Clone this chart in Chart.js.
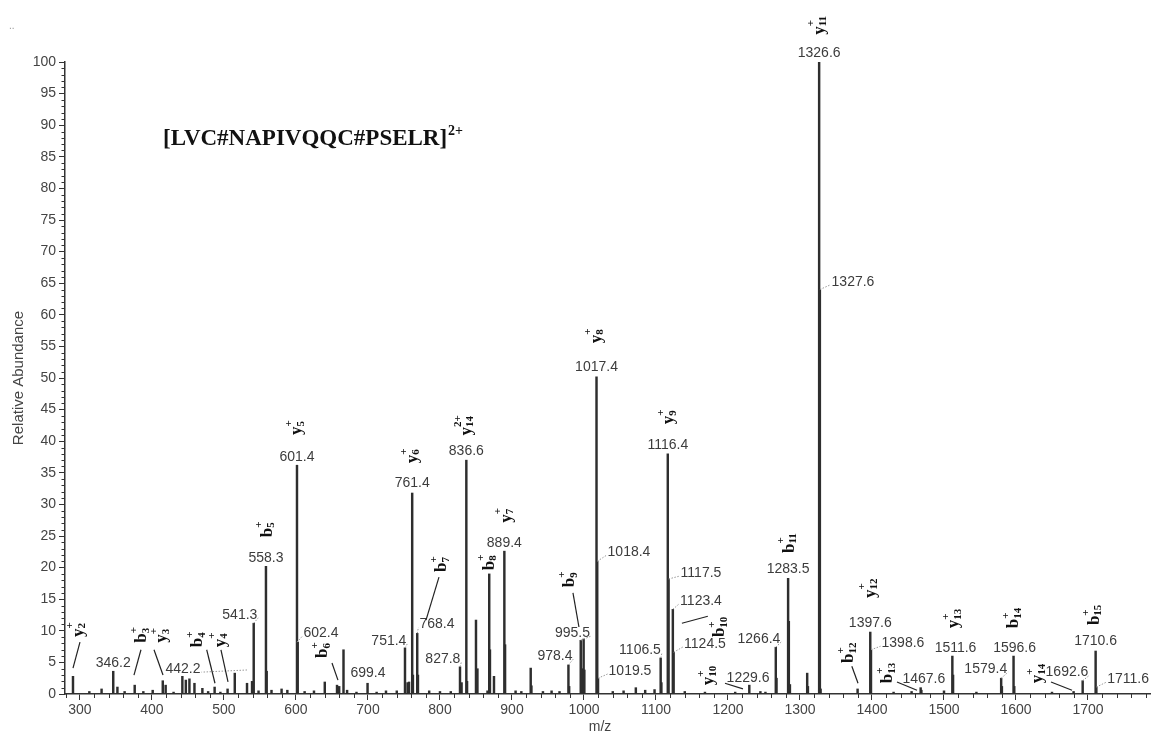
<!DOCTYPE html>
<html>
<head>
<meta charset="utf-8">
<script src="https://cdn.jsdelivr.net/npm/chart.js@4.4.0/dist/chart.umd.min.js"></script>
<style>
  html, body { margin: 0; background: #fff; }
</style>
</head>
<body>
<canvas id="spectrum" width="1151" height="736"></canvas>
<script>
// peak list: m/z and relative abundance (%)
const peakMz = [
  290.3, 313, 330, 346.2, 352, 362, 376, 388, 401, 415, 419, 430, 442.2, 447, 452, 459,
  470, 478, 487, 495, 505, 515, 532, 539, 541.3, 548, 558.3, 559.3, 566, 580, 588,
  601.4, 602.4, 612, 625, 640, 657, 660, 666, 671, 684, 699.4, 712, 725, 740,
  751.4, 755, 757, 761.4, 762.4, 768.4, 769.4, 785, 800, 815, 827.8, 830,
  836.6, 837.6, 850, 852, 866, 868.4, 869.4, 875, 889.4, 890.4, 905, 913, 926, 927,
  943, 955, 966, 978.4, 979.4, 995.5, 997, 999.5, 1000.5, 1017.4, 1018.4, 1019.5,
  1040, 1055, 1072, 1085, 1098, 1106.5, 1107.5, 1116.4, 1117.5, 1123.4, 1124.5,
  1140, 1168, 1210, 1229.6, 1245, 1252, 1266.4, 1267.4, 1283.5, 1284.5, 1286,
  1310, 1311, 1326.6, 1327.6, 1328.6, 1380, 1397.6, 1398.6, 1430, 1455, 1467.6, 1468.6,
  1500, 1511.6, 1512.6, 1545, 1579.4, 1580.4, 1596.6, 1597.6, 1650, 1680, 1692.6,
  1710.6, 1711.6
];
const peakAb = [
  2.8, 0.4, 0.8, 3.6, 1.1, 0.4, 1.4, 0.4, 0.6, 2.1, 1.4, 0.3, 2.8, 2.2, 2.4, 1.7,
  0.9, 0.4, 1.1, 0.3, 0.8, 3.3, 1.7, 2.0, 11.2, 0.5, 20.2, 3.6, 0.6, 0.8, 0.6,
  36.2, 8.2, 0.4, 0.5, 1.9, 1.4, 1.2, 7.0, 0.6, 0.3, 1.7, 0.3, 0.5, 0.5,
  7.3, 1.8, 1.9, 31.8, 3.0, 9.6, 3.0, 0.5, 0.4, 0.4, 4.3, 1.8,
  37.0, 2.0, 11.7, 4.0, 0.5, 19.0, 7.0, 2.8, 22.6, 7.8, 0.5, 0.4, 4.1, 1.3,
  0.4, 0.5, 0.4, 4.6, 1.2, 8.5, 4.0, 8.7, 3.8, 50.2, 21.0, 2.5,
  0.4, 0.5, 1.0, 0.6, 0.7, 5.7, 1.8, 38.0, 18.2, 13.4, 6.6,
  0.4, 0.3, 0.3, 1.4, 0.4, 0.3, 7.4, 2.5, 18.3, 11.5, 1.5,
  3.3, 1.2, 100, 64.0, 0.8, 0.8, 9.8, 7.0, 0.3, 0.4, 1.0, 0.6,
  0.5, 6.0, 3.0, 0.3, 2.5, 1.2, 6.0, 1.2, 0.3, 0.4, 2.1,
  6.8, 1.1
];

const xTickValues = [300, 400, 500, 600, 700, 800, 900, 1000, 1100, 1200, 1300, 1400, 1500, 1600, 1700];

// m/z annotations: text, label centre (m/z, abundance at baseline), optional dotted leader start
const mzLabels = [
  ['346.2', 346.2, 4.3],
  ['442.2', 443, 3.3, 532, 3.8],
  ['541.3', 522, 11.9, 541.3, 11.2],
  ['558.3', 558.3, 20.9],
  ['601.4', 601.4, 36.9],
  ['602.4', 634.7, 9.0, 601.4, 8.2],
  ['699.4', 700, 2.7],
  ['751.4', 729, 7.8, 751.4, 7.3],
  ['761.4', 761.4, 32.8],
  ['768.4', 795.8, 10.4, 768.4, 9.6],
  ['827.8', 804, 4.9, 827.8, 4.3],
  ['836.6', 836.6, 37.8],
  ['889.4', 889.4, 23.3],
  ['978.4', 959.7, 5.4, 978.4, 4.6],
  ['995.5', 984, 9.0, 995.5, 8.5],
  ['1017.4', 1017.4, 51.1],
  ['1018.4', 1062.5, 21.8, 1018.4, 21.0],
  ['1019.5', 1063.9, 3.0, 1019.5, 2.5],
  ['1106.5', 1077.8, 6.3, 1106.5, 5.7],
  ['1116.4', 1116.4, 38.8],
  ['1117.5', 1162.5, 18.5, 1117.5, 18.2],
  ['1123.4', 1162.5, 14.1, 1123.4, 13.4],
  ['1124.5', 1168, 7.3, 1124.5, 6.6],
  ['1229.6', 1227.8, 1.9],
  ['1266.4', 1243, 8.1, 1266.4, 7.4],
  ['1283.5', 1283.5, 19.1],
  ['1326.6', 1326.6, 100.8],
  ['1327.6', 1373.6, 64.6, 1327.6, 64.0],
  ['1397.6', 1397.6, 10.6],
  ['1398.6', 1443, 7.4, 1398.6, 7.0],
  ['1467.6', 1472, 1.7],
  ['1511.6', 1516, 6.6],
  ['1579.4', 1558, 3.3, 1579.4, 2.5],
  ['1596.6', 1598, 6.6],
  ['1692.6', 1670.8, 2.8, 1692.6, 2.1],
  ['1710.6', 1710.6, 7.8],
  ['1711.6', 1755.6, 1.7, 1711.6, 1.1]
];

// fragment ions: letter, subscript, charge, bottom-centre (m/z, abundance), optional solid leader
const ionLabels = [
  ['y', '2', '+', 297.5, 9.0, [300, 8.2, 290.3, 4.1]],
  ['b', '3', '+', 386, 8.1, [384.7, 7.0, 375, 3.0]],
  ['y', '3', '+', 414, 8.1, [402.8, 7.0, 415.3, 3.0]],
  ['b', '4', '+', 464, 7.4, [476, 7.0, 487.5, 1.7]],
  ['y', '4', '+', 495, 7.4, [495.8, 7.0, 505.6, 1.9]],
  ['b', '5', '+', 560, 24.8],
  ['y', '5', '+', 601.4, 41.0],
  ['b', '6', '+', 637.5, 5.7, [650, 4.9, 658.3, 2.2]],
  ['y', '6', '+', 761.4, 36.5],
  ['b', '7', '+', 802.8, 19.3, [798.6, 18.5, 780.6, 11.7]],
  ['y', '14', '2+', 836.6, 40.9],
  ['b', '8', '+', 868.4, 19.6],
  ['y', '7', '+', 892, 27.1],
  ['b', '9', '+', 980.6, 16.9, [984.7, 16.0, 993, 10.6]],
  ['y', '8', '+', 1017.4, 55.5],
  ['y', '9', '+', 1118, 42.7],
  ['b', '10', '+', 1188.9, 9.0, [1136, 11.2, 1172, 12.3]],
  ['y', '10', '+', 1173.6, 1.4, [1195.8, 1.7, 1220.8, 0.8]],
  ['b', '11', '+', 1285.5, 22.3],
  ['y', '11', '+', 1326.6, 104.3],
  ['b', '12', '+', 1368, 4.9, [1372, 4.4, 1380.6, 1.7]],
  ['y', '12', '+', 1397.6, 15.2],
  ['b', '13', '+', 1422, 1.7, [1434.7, 1.9, 1462.5, 0.6]],
  ['y', '13', '+', 1514, 10.4],
  ['b', '14', '+', 1597, 10.4],
  ['y', '14', '+', 1630.6, 1.7, [1648.6, 1.9, 1677.8, 0.6]],
  ['b', '15', '+', 1709, 10.9]
];

const SANS = '"Liberation Sans", Arial, sans-serif';
const SERIF = '"Liberation Serif", "Times New Roman", serif';

function drawIon(ctx, x, y, base, sub, sup) {
  ctx.save();
  ctx.translate(x, y);
  ctx.rotate(-Math.PI / 2);
  ctx.fillStyle = '#111';
  ctx.textAlign = 'left';
  ctx.textBaseline = 'middle';
  ctx.font = 'bold 17px ' + SERIF;
  const wb = ctx.measureText(base).width;
  ctx.fillText(base, 0, 0);
  ctx.font = 'bold 11px ' + SERIF;
  ctx.fillText(sub, wb, 4);
  ctx.fillText(sup, wb, -8);
  ctx.restore();
}

const decor = {
  id: 'decor',
  afterDraw(chart) {
    const { ctx, chartArea: a } = chart;
    const xs = chart.scales.x, ys = chart.scales.y;
    const px = v => xs.getPixelForValue(v);
    const py = v => ys.getPixelForValue(v);
    ctx.save();

    // minor ticks
    ctx.strokeStyle = '#333';
    ctx.lineWidth = 1;
    ctx.beginPath();
    for (let v = 0; v <= 100; v++) {
      if (v % 5 === 0) continue;
      const yy = Math.round(py(v)) + 0.5;
      ctx.moveTo(a.left - 3.5, yy);
      ctx.lineTo(a.left, yy);
    }
    for (let v = 280; v <= 1780; v += 20) {
      if (v % 100 === 0) continue;
      const xx = Math.round(px(v)) + 0.5;
      ctx.moveTo(xx, a.bottom);
      ctx.lineTo(xx, a.bottom + 4);
    }
    ctx.stroke();

    // m/z labels with dotted leaders
    ctx.font = '14px ' + SANS;
    ctx.textAlign = 'center';
    ctx.textBaseline = 'alphabetic';
    mzLabels.forEach(([t, mx, my, lx, ly]) => {
      const cx = px(mx), by = py(my);
      ctx.fillStyle = '#3c3c3c';
      ctx.fillText(t, cx, by);
      if (lx !== undefined) {
        const w = ctx.measureText(t).width;
        const sx = px(lx), sy = py(ly);
        const ex = sx < cx ? cx - w / 2 - 1 : cx + w / 2 + 1;
        ctx.save();
        ctx.setLineDash([1.5, 1.5]);
        ctx.strokeStyle = '#999';
        ctx.lineWidth = 1;
        ctx.beginPath();
        ctx.moveTo(sx, sy);
        ctx.lineTo(ex, by - 1);
        ctx.stroke();
        ctx.restore();
      }
    });

    // ion labels with solid leaders
    ionLabels.forEach(([b, s, c, mx, my, lead]) => {
      drawIon(ctx, px(mx), py(my), b, s, c);
      if (lead) {
        ctx.strokeStyle = '#222';
        ctx.lineWidth = 1.2;
        ctx.beginPath();
        ctx.moveTo(px(lead[0]), py(lead[1]));
        ctx.lineTo(px(lead[2]), py(lead[3]));
        ctx.stroke();
      }
    });

    // precursor title
    ctx.fillStyle = '#111';
    ctx.textAlign = 'left';
    ctx.font = 'bold 23px ' + SERIF;
    const title = '[LVC#NAPIVQQC#PSELR]';
    ctx.fillText(title, 163, 145);
    const tw = ctx.measureText(title).width;
    ctx.font = 'bold 14px ' + SERIF;
    ctx.fillText('2+', 163 + tw + 1, 135);

    // axis titles
    ctx.fillStyle = '#444';
    ctx.font = '14px ' + SANS;
    ctx.textAlign = 'center';
    ctx.fillText('m/z', 600, 731);
    ctx.save();
    ctx.translate(23, 378);
    ctx.rotate(-Math.PI / 2);
    ctx.font = '15px ' + SANS;
    ctx.fillText('Relative Abundance', 0, 0);
    ctx.restore();

    ctx.fillStyle = '#999';
    ctx.font = '10px ' + SANS;
    ctx.textAlign = 'left';
    ctx.fillText('..', 9, 29);

    ctx.restore();
  }
};

new Chart(document.getElementById('spectrum'), {
  type: 'bar',
  data: {
    datasets: [{
      data: peakMz.map((m, i) => ({ x: m, y: peakAb[i] })),
      backgroundColor: '#2e2e2e',
      borderWidth: 0,
      barThickness: 1.8
    }]
  },
  options: {
    responsive: false,
    animation: false,
    layout: { padding: { top: 62, right: 0, left: 0, bottom: 0 } },
    scales: {
      x: {
        type: 'linear',
        min: 279.2,
        max: 1787.5,
        offset: false,
        afterFit: s => { s.height = 42; },
        afterBuildTicks: s => { s.ticks = xTickValues.map(v => ({ value: v })); },
        border: { color: '#333', width: 1.5 },
        grid: { drawOnChartArea: false, offset: false, tickLength: 6, tickColor: '#333', tickWidth: 1 },
        ticks: {
          autoSkip: false,
          maxRotation: 0,
          padding: 2,
          color: '#444',
          font: { family: SANS, size: 14 },
          callback: v => String(v)
        }
      },
      y: {
        min: 0,
        max: 100,
        afterFit: s => { s.width = 65; },
        border: { color: '#333', width: 1.5 },
        grid: { drawOnChartArea: false, tickLength: 6, tickColor: '#333', tickWidth: 1 },
        ticks: {
          stepSize: 5,
          padding: 3,
          color: '#444',
          font: { family: SANS, size: 14 }
        }
      }
    },
    plugins: {
      legend: { display: false },
      tooltip: { enabled: false }
    }
  },
  plugins: [decor]
});
</script>
</body>
</html>
